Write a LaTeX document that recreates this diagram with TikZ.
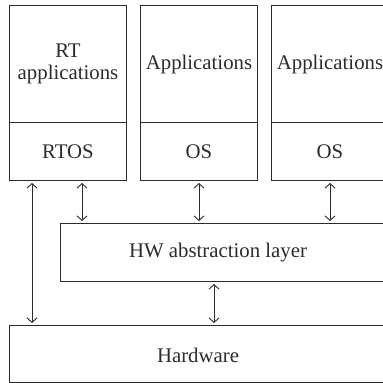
\documentclass[tikz,border=0pt]{standalone}
\usepackage{fontspec}
\setmainfont{Liberation Serif}
\usetikzlibrary{arrows.meta,calc}
\definecolor{lc}{HTML}{2B2B2B}
\tikzset{
  lbl/.style={text=lc, font=\fontsize{20.8}{22}\selectfont, align=center},
  blk/.style={draw=lc, line width=1pt, rectangle, inner sep=0pt, anchor=north west, lbl},
  arr/.style={draw=lc, line width=0.9pt, {Straight Barb[length=4.5pt,width=10pt]}-{Straight Barb[length=4.5pt,width=10pt]}, shorten <=2pt, shorten >=2pt}
}
\begin{document}
\begin{tikzpicture}[x=1pt,y=-1pt]
\clip (0,0) rectangle (383,383);
% top boxes
\node[blk, minimum width=117pt, minimum height=117pt] (rtapp) at (9,5) {RT\\applications};
\node[blk, minimum width=117pt, minimum height=58pt] (rtos) at (9,122) {RTOS};
\node[blk, minimum width=117pt, minimum height=117pt] (app1) at (140,5) {Applications};
\node[blk, minimum width=117pt, minimum height=58pt] (os1) at (140,122) {OS};
\node[blk, minimum width=117pt, minimum height=117pt] (app2) at (271,5) {Applications};
\node[blk, minimum width=117pt, minimum height=58pt] (os2) at (271,122) {OS};
% HAL
\node[blk, minimum width=340pt, minimum height=58pt] (hal) at (60,223) {};
\node[lbl] (haltext) at (218,253) {HW abstraction layer};
% Hardware
\node[blk, minimum width=390pt, minimum height=57pt] (hw) at (9,325) {};
\node[lbl] (hwtext) at (198,355) {Hardware};
% coordinates
\coordinate (c1) at (32,0);
\coordinate (c2) at (82,0);
\coordinate (c3) at (199,0);
\coordinate (c4) at (330,0);
\coordinate (c5) at (214,0);
\draw[arr] (rtos.south -| c1) -- (hw.north -| c1);
\draw[arr] (rtos.south -| c2) -- (hal.north -| c2);
\draw[arr] (os1.south -| c3) -- (hal.north -| c3);
\draw[arr] (os2.south -| c4) -- (hal.north -| c4);
\draw[arr] (hal.south -| c5) -- (hw.north -| c5);
\end{tikzpicture}
\end{document}
